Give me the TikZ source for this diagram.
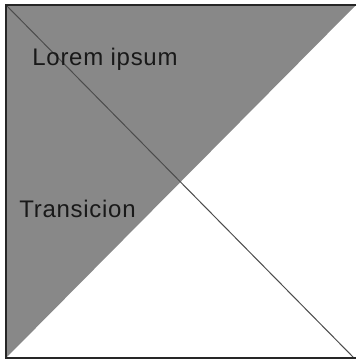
\documentclass[tikz,border=0pt]{standalone}
\usepackage{fontspec}
\setmainfont{Liberation Sans}[LetterSpace=3]
\begin{document}
\begin{tikzpicture}[x=1pt,y=-1pt,
  frame/.style={draw=black!85,line width=1.5pt},
  diag/.style={draw=black!70,line width=1pt},
  lbl/.style={anchor=base,inner sep=0pt,text=black!90,font=\fontsize{24}{28}\selectfont}]
\useasboundingbox (0,0) rectangle (356,361);
\fill[white] (0,0) rectangle (356,361);
% shaded upper-left triangle
\fill[fill={rgb,255:red,136;green,136;blue,136}] (6,5) -- (356,5) -- (6,358) -- cycle;
\coordinate (tl) at (6,5);
\coordinate (tr) at (356,5);
\coordinate (bl) at (6,358);
\coordinate (br) at (356,358);
% diagonal
\draw[diag] (tl) -- (354,358);
% frame edges
\draw[frame] (tr) -- (tl) -- (bl) -- (br);
\node[lbl] (lorem) at (105,65) {Lorem ipsum};
\node[lbl] (trans) at (77.5,217) {Transicion};
\end{tikzpicture}
\end{document}
